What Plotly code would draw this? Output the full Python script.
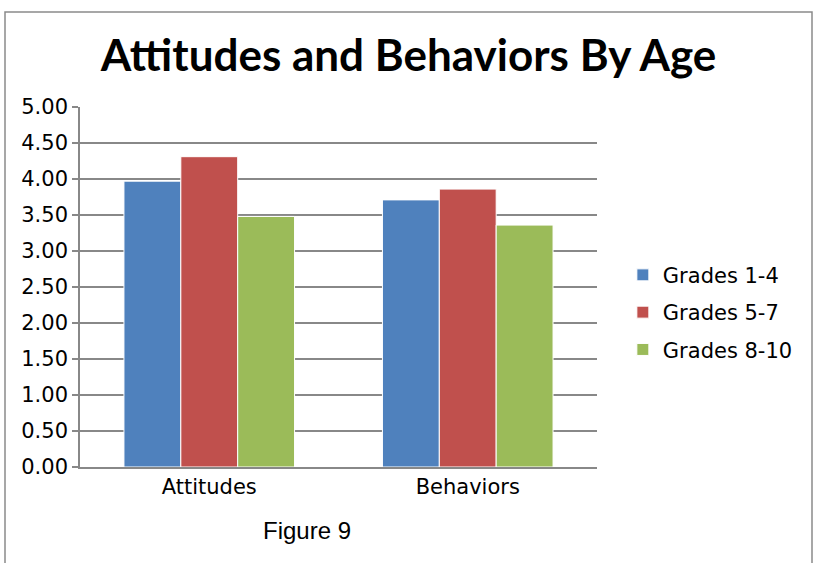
import plotly.graph_objects as go

categories = ["Attitudes", "Behaviors"]
series_names = ["Grades 1-4", "Grades 5-7", "Grades 8-10"]
grades_1_4 = [3.97, 3.71]
grades_5_7 = [4.31, 3.86]
grades_8_10 = [3.48, 3.36]
colors = ["#4f81bd", "#c0504d", "#9bbb59"]
y_ticks = [0, 0.5, 1, 1.5, 2, 2.5, 3, 3.5, 4, 4.5, 5]

fig = go.Figure()
for i, (name, vals) in enumerate(zip(series_names, [grades_1_4, grades_5_7, grades_8_10])):
    fig.add_trace(go.Bar(
        x=categories, y=vals, name=name, legendgroup=name,
        marker=dict(color=colors[i], line=dict(color="white", width=1)),
    ))

grid_color = "#888888"
text_font = "DejaVu Sans, sans-serif"
fig.update_layout(
    width=817, height=563,
    margin=dict(l=80, r=220, t=107, b=96),
    paper_bgcolor="white", plot_bgcolor="white",
    barmode="group", bargap=0.34, bargroupgap=0,
    title=dict(text="<b>Attitudes and Behaviors By Age</b>", x=0.5, xanchor="center",
               xref="container", y=1 - 56 / 563, yanchor="middle",
               font=dict(family="Lato, Open Sans, sans-serif", size=44, color="black")),
    font=dict(family=text_font, color="black"),
    legend=dict(x=1.05, xanchor="left", y=0.43, yanchor="middle",
                font=dict(size=21), tracegroupgap=7, itemwidth=30,
                bgcolor="rgba(0,0,0,0)"),
    yaxis=dict(range=[0, 5], tickvals=y_ticks, tickformat=".2f",
               showgrid=True, gridcolor=grid_color, gridwidth=1.6,
               showline=True, linecolor=grid_color, linewidth=1.6,
               ticks="outside", ticklen=6, tickcolor=grid_color, tickwidth=1.6,
               tickfont=dict(size=21), zeroline=False, fixedrange=True),
    xaxis=dict(showline=True, linecolor=grid_color, linewidth=1.6,
               ticks="", tickfont=dict(size=21), fixedrange=True),
    showlegend=True,
)

# outer frame of the chart sheet
fig.add_shape(type="rect", xref="paper", yref="paper",
              x0=-75 / 517, x1=1 + 215 / 517, y0=-0.3, y1=1 + 95 / 360,
              line=dict(color="#8a8a8a", width=1.5), fillcolor="rgba(0,0,0,0)")

fig.add_annotation(text="Figure 9", xref="paper", yref="paper",
                   x=(307 - 80) / 517, y=-(530 - 467) / 360, xanchor="center", yanchor="middle",
                   showarrow=False,
                   font=dict(family="Liberation Sans, Arial, sans-serif", size=24, color="black"))

fig.write_html("out.html")
